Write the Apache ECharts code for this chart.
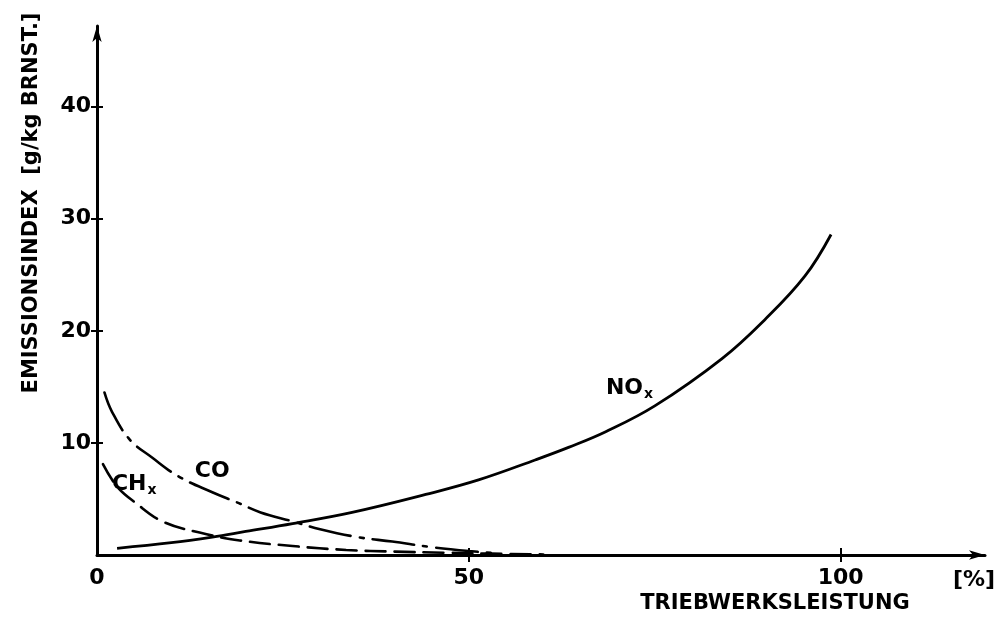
<!DOCTYPE html>
<html>
<head>
<meta charset="utf-8">
<script src="https://cdn.jsdelivr.net/npm/echarts@6/dist/echarts.min.js"></script>
<style>
html,body{margin:0;padding:0;background:#fff;}
#chart{width:998px;height:622px;}
</style>
</head>
<body>
<div id="chart"></div>
<script>
// ---- data ----
var coX  = [1, 2, 4.4, 7.4, 11, 15.5, 18.8, 22, 26.3, 30, 35, 39.7, 45, 50, 54];
var coY  = [14.5, 12.8, 10.3, 8.7, 7.0, 5.6, 4.7, 3.8, 3.0, 2.3, 1.6, 1.2, 0.7, 0.35, 0.15];
var chX  = [0.8, 2.7, 5.1, 8.8, 13.8, 19.2, 26.3, 33.5, 40, 47, 53, 60];
var chY  = [8.1, 6.1, 4.7, 3.0, 2.0, 1.3, 0.8, 0.45, 0.3, 0.2, 0.12, 0.05];
var noxX = [2.7, 10, 15.5, 20, 26.3, 34.3, 44.2, 51.3, 59, 63.4, 68.4, 75, 84, 89.8, 95.2, 98.7];
var noxY = [0.6, 1.1, 1.6, 2.1, 2.8, 3.8, 5.4, 6.7, 8.5, 9.6, 11.0, 13.3, 17.5, 21.0, 24.9, 28.6];

var xTicks = [0, 50, 100];
var yTicks = [10, 20, 30, 40];
var seriesNames = ['CO', 'CH', 'NO'];
var labelX = [15.5, 5.0, 71.6];
var labelY = [7.5, 6.3, 14.9];
var xUnit = '[%]';
var xTitle = 'TRIEBWERKSLEISTUNG';
var yTitle = 'EMISSIONSINDEX  [g/kg BRNST.]';

function pairs(xs, ys){ return xs.map(function(x,i){ return [x, ys[i]]; }); }

var FONT = 'DejaVu Sans';
var chart = echarts.init(document.getElementById('chart'), null, {renderer:'canvas'});

var axisBase = { type: 'value', splitLine: {show:false} };

var option = {
  animation: false,
  backgroundColor: '#ffffff',
  grid: {left: 97, right: 13, top: 26, bottom: 67, containLabel: false},
  xAxis: [
    Object.assign({}, axisBase, {
      min: 0, max: 119.4, interval: 50,
      axisLine: {show:true, symbol:['none','arrow'], symbolSize:[7,16], lineStyle:{color:'#000', width:3}},
      axisTick: {show:true, length:7, lineStyle:{color:'#000', width:2}, customValues:[50,100]},
      axisLabel: {show:true, customValues: xTicks, color:'#000', fontFamily:FONT, fontSize:22, fontWeight:'bold', margin:12}
    }),
    Object.assign({}, axisBase, {
      min: 0, max: 119.4, position:'bottom',
      axisLine: {show:false},
      axisTick: {show:true, inside:true, length:7, lineStyle:{color:'#000', width:2}, customValues:[50,100]},
      axisLabel: {show:false}
    })
  ],
  yAxis: [
    Object.assign({}, axisBase, {
      min: 0, max: 47.2, interval: 10,
      axisLine: {show:true, symbol:['none','arrow'], symbolSize:[7,16], lineStyle:{color:'#000', width:3}},
      axisTick: {show:true, length:6, lineStyle:{color:'#000', width:2}, customValues: yTicks},
      axisLabel: {show:true, customValues: yTicks, color:'#000', fontFamily:FONT, fontSize:22, fontWeight:'bold', margin:6}
    }),
    Object.assign({}, axisBase, {
      min: 0, max: 47.2, position:'left',
      axisLine: {show:false},
      axisTick: {show:true, inside:true, length:6, lineStyle:{color:'#000', width:2}, customValues: yTicks},
      axisLabel: {show:false}
    })
  ],
  series: [
    {
      name: 'CO', type: 'line', data: pairs(coX, coY), smooth: 0.4, symbol: 'none',
      lineStyle: {color:'#000', width:2.6, type:[42, 9, 4, 9], cap:'round'}
    },
    {
      name: 'CH', type: 'line', data: pairs(chX, chY), smooth: 0.4, symbol: 'none',
      lineStyle: {color:'#000', width:2.6, type:[20, 9], cap:'round'}
    },
    {
      name: 'NOx', type: 'line', data: pairs(noxX, noxY), smooth: 0.4, symbol: 'none',
      lineStyle: {color:'#000', width:2.8}
    },
    {
      name: 'labels', type: 'scatter', symbolSize: 0, silent: true,
      itemStyle: {opacity: 1, color: '#000'},
      data: labelX.map(function(x,i){ return {value:[x, labelY[i]], name: seriesNames[i]}; }),
      label: {
        show: true, position: 'inside', color:'#000', textBorderWidth: 0, opacity: 1,
        formatter: function(p){
          if (p.name === 'CO') return '{a|CO}';
          return '{a|' + p.name + '}{b|x}';
        },
        rich: {
          a: {fontFamily: FONT, fontSize: 22, fontWeight:'bold', color:'#000', textBorderWidth:0},
          b: {fontFamily: FONT, fontSize: 14, fontWeight:'bold', color:'#000', textBorderWidth:0, padding:[12,0,0,1]}
        }
      }
    }
  ],
  graphic: [
    {type:'text', x: 974, y: 580, style:{text: xUnit, fontFamily: FONT, fontSize: 22, fontWeight:'bold', fill:'#000', align:'center', verticalAlign:'middle'}},
    {type:'text', x: 775, y: 604, style:{text: xTitle, fontFamily: FONT, fontSize: 21, fontWeight:'bold', fill:'#000', align:'center', verticalAlign:'middle'}},
    {type:'text', x: 32, y: 203, rotation: Math.PI/2, style:{text: yTitle, fontFamily: FONT, fontSize: 21, fontWeight:'bold', fill:'#000', align:'center', verticalAlign:'middle'}}
  ]
};
chart.setOption(option);
</script>
</body>
</html>
